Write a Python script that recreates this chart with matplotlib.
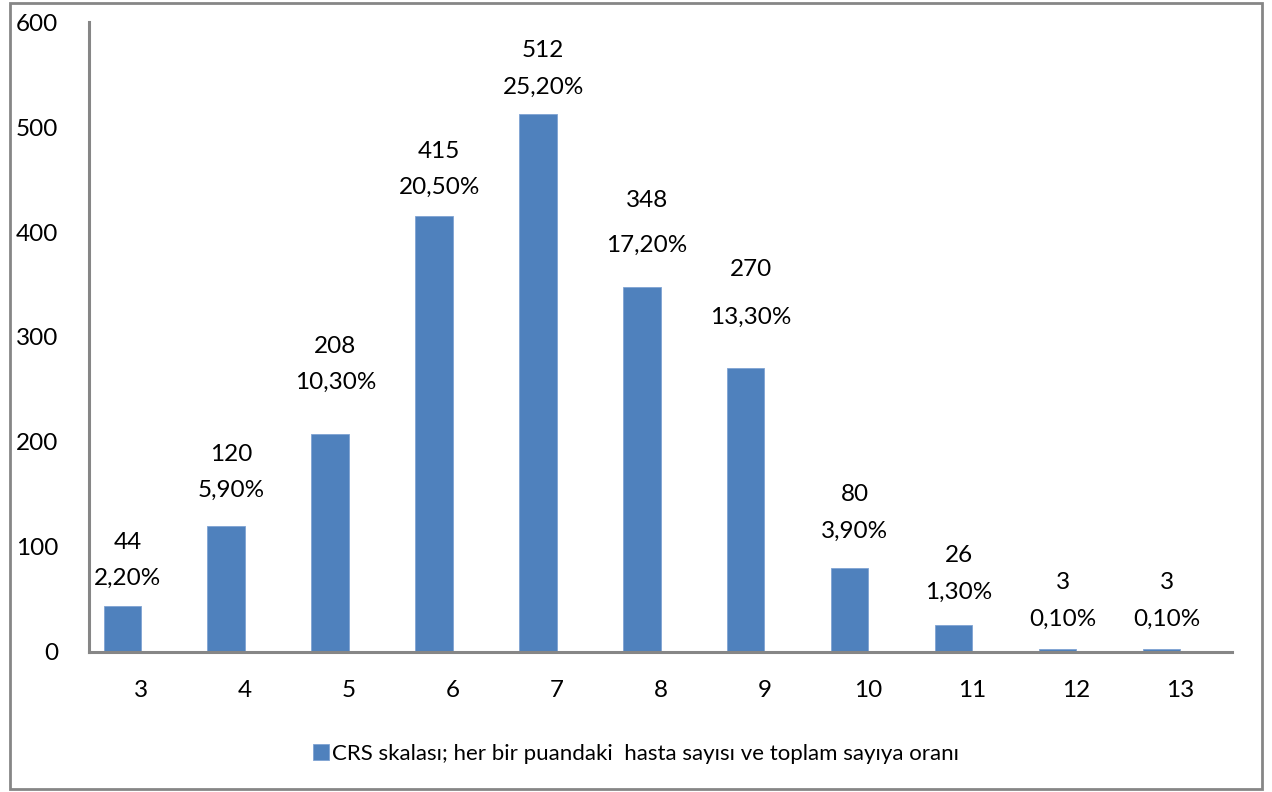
import matplotlib.pyplot as plt
import numpy as np
from matplotlib.patches import Rectangle

# CRS puanları ve her puandaki hasta sayısı
puanlar = ['3', '4', '5', '6', '7', '8', '9', '10', '11', '12', '13']
hasta_sayisi = [44, 120, 208, 415, 512, 348, 270, 80, 26, 3, 3]
oranlar = ['2,20%', '5,90%', '10,30%', '20,50%', '25,20%', '17,20%',
           '13,30%', '3,90%', '1,30%', '0,10%', '0,10%']

# Etiketlerin çubuk üstünden uzaklığı (punto) ve satır aralığı
etiket_ofset = [12, 18, 29, 13, 12, 22, 29, 19, 16, 14, 14]
satir_arasi = [1.9, 1.9, 1.9, 1.9, 1.9, 2.4, 2.6, 1.9, 1.9, 1.9, 1.9]

plt.rcParams['font.family'] = ['Lato', 'DejaVu Sans']

fig = plt.figure(figsize=(12.72, 7.92), dpi=100)
ax = fig.add_axes([0.070, 0.1768, 0.8986, 0.7954])

x = np.arange(len(puanlar))
renk = '#4F81BD'
bars = ax.bar(x - 0.18, hasta_sayisi, width=0.36, color=renk,
              edgecolor='#7FA3D3', linewidth=0.6,
              label='CRS skalası; her bir puandaki  hasta sayısı ve toplam sayıya oranı')

for b, n, o, off, ls in zip(bars, hasta_sayisi, oranlar, etiket_ofset, satir_arasi):
    cx = b.get_x() + b.get_width() / 2 + 0.05
    ax.annotate(f'{n}\n{o}', (cx, n), xytext=(0, off), textcoords='offset points',
                ha='center', va='bottom', fontsize=17.5, linespacing=ls)

ax.set_xlim(-0.5, len(puanlar) - 0.5)
ax.set_ylim(0, 600)
ax.set_yticks(range(0, 601, 100))
ax.set_xticks(x)
ax.set_xticklabels(puanlar, fontsize=17.5)
ax.set_yticklabels([str(v) for v in range(0, 601, 100)], fontsize=17.5)
ax.tick_params(axis='both', length=0)
ax.tick_params(axis='y', pad=22)
ax.tick_params(axis='x', pad=20)

for s in ['top', 'right']:
    ax.spines[s].set_visible(False)
for s in ['left', 'bottom']:
    ax.spines[s].set_color('#868686')
    ax.spines[s].set_linewidth(2.2)

leg = fig.legend(loc='center', bbox_to_anchor=(0.5, 0.048), frameon=False,
                 fontsize=16, handlelength=0.75, handleheight=0.75, handletextpad=0.15)

# grafik çerçevesi
fig.patches.append(Rectangle((0.0075, 0.004), 0.985, 0.992, transform=fig.transFigure,
                             fill=False, edgecolor='#868686', linewidth=2))

fig.savefig('out.png', dpi=100)
